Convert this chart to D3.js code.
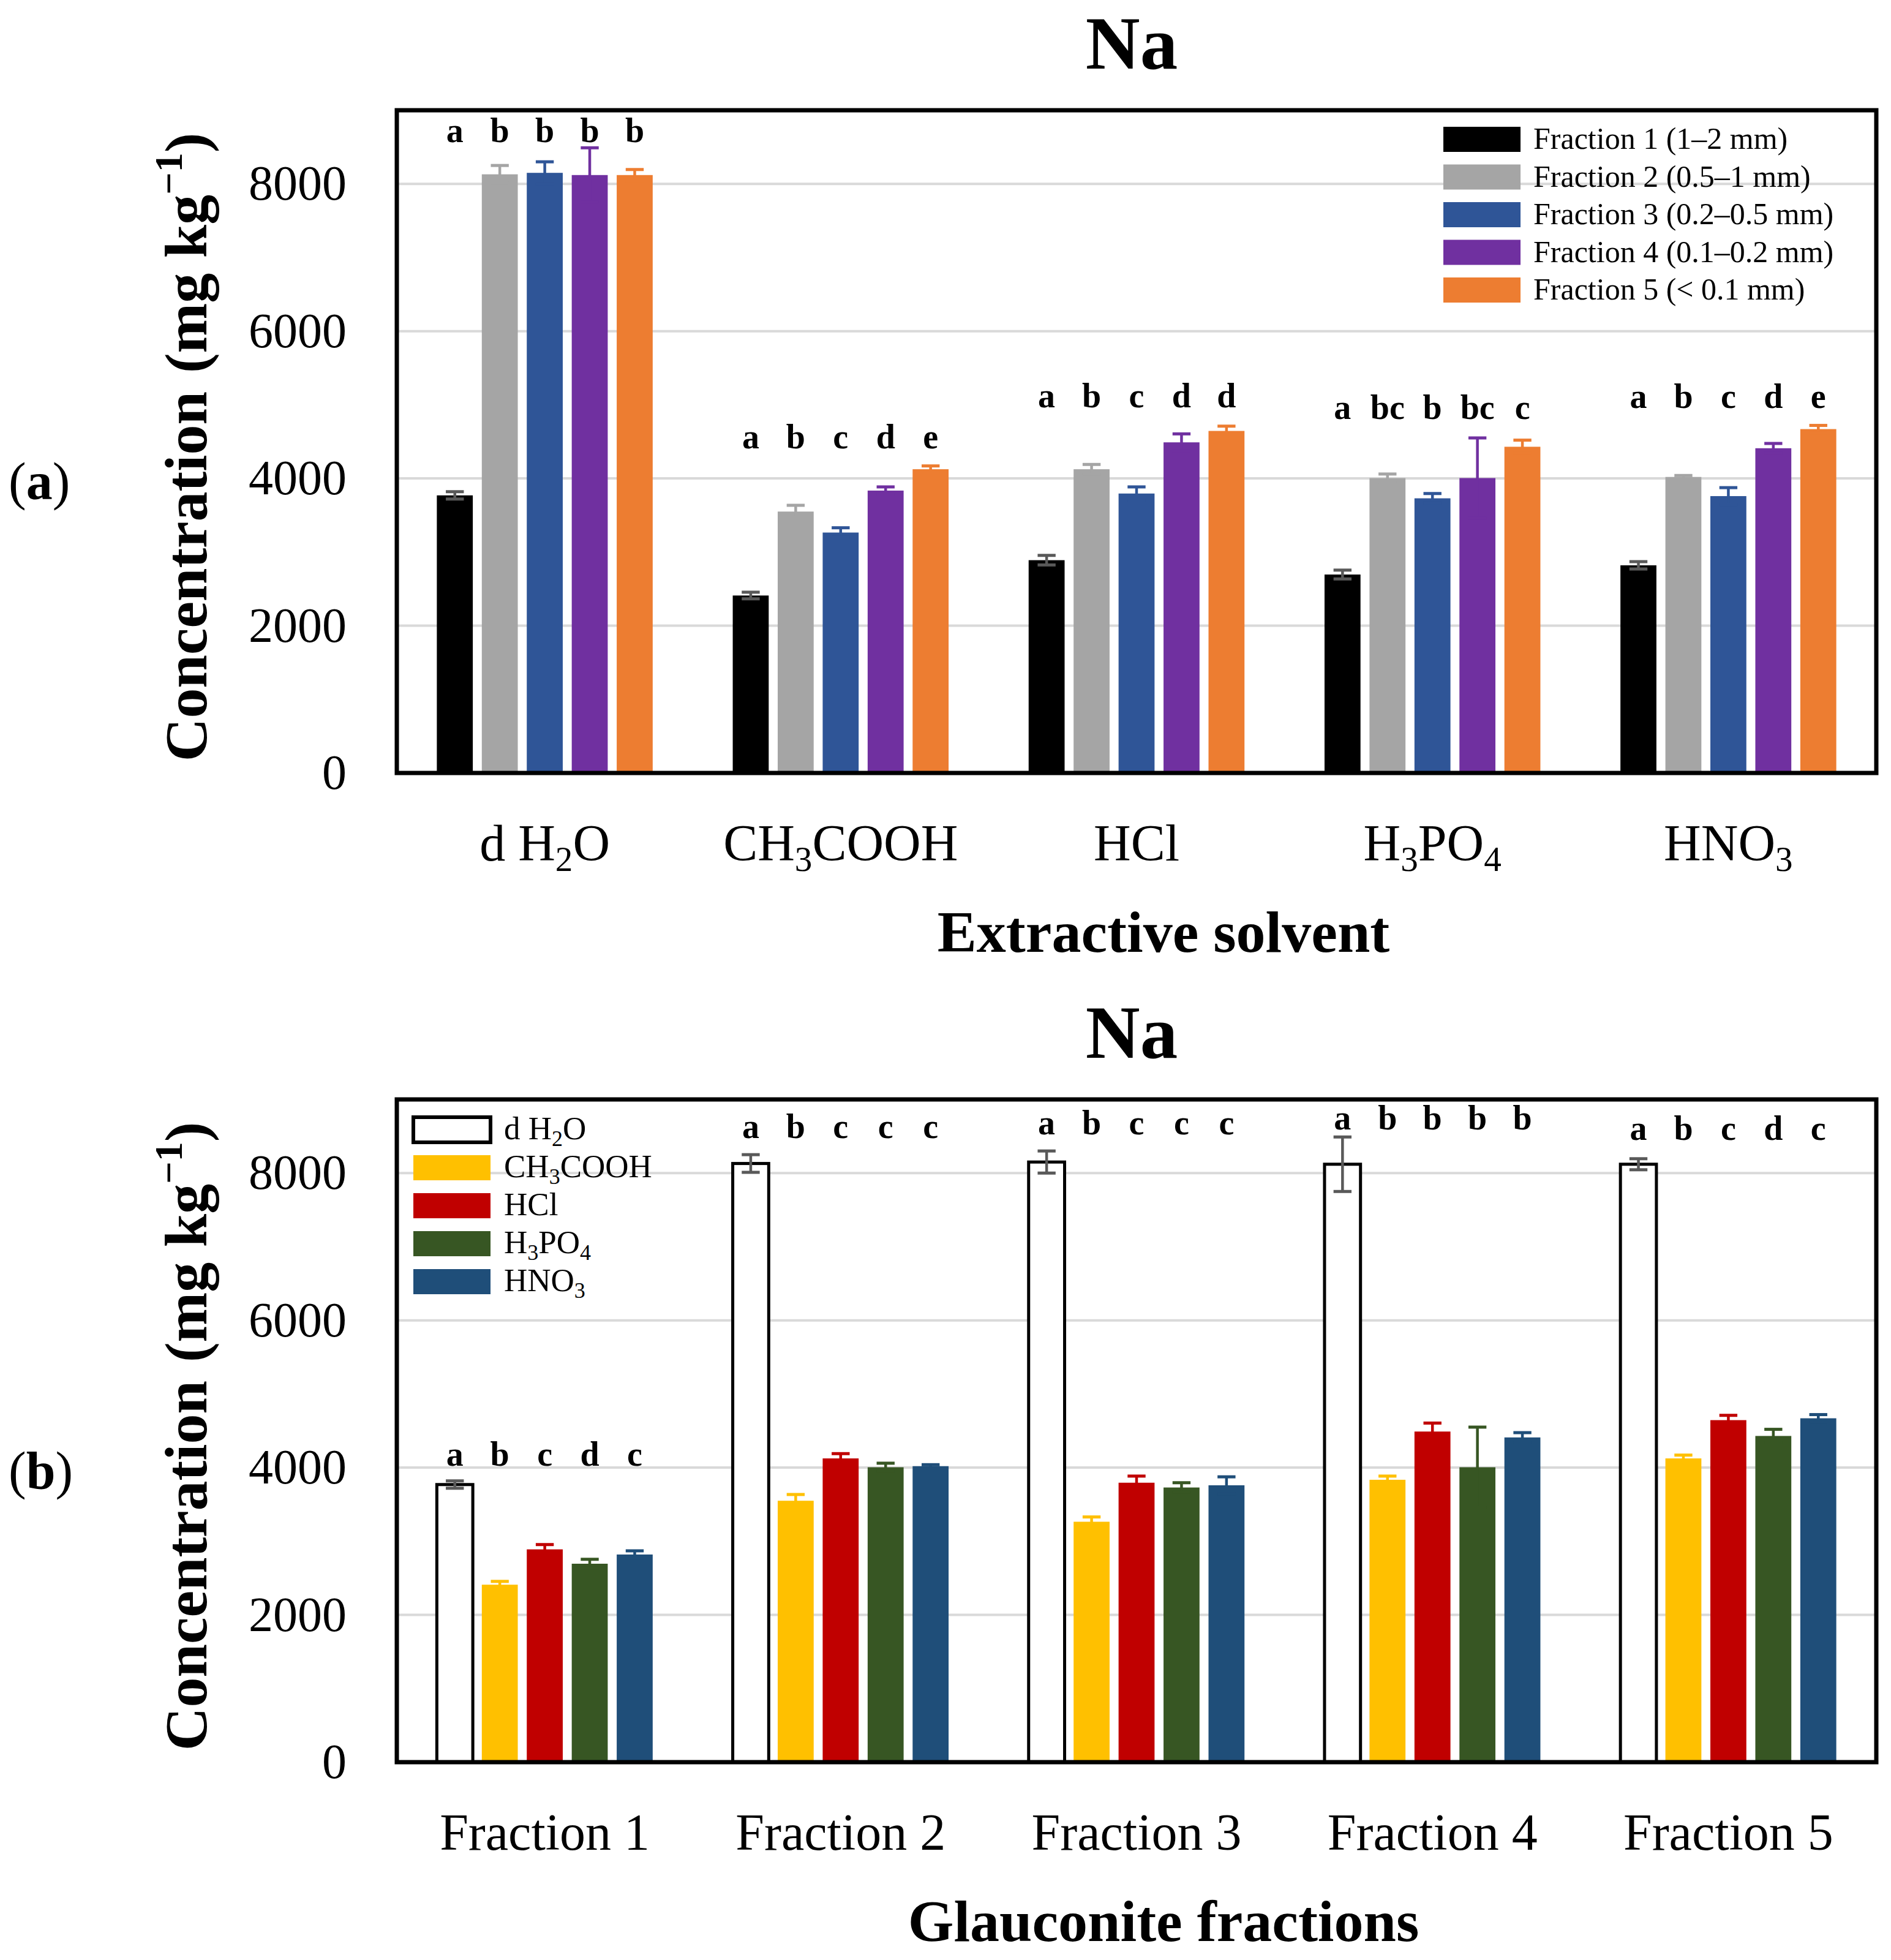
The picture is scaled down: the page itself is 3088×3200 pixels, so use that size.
<!DOCTYPE html>
<html>
<head>
<meta charset="utf-8">
<script src="https://cdn.jsdelivr.net/npm/d3@7"></script>
<style>
  body { margin: 0; background: #fff; }
</style>
</head>
<body>
<script>
// data (mg kg-1), one array per glauconite fraction,
// order of values = solvents below
const solvents = ["d H2O", "CH3COOH", "HCl", "H3PO4", "HNO3"];
const fractions = ["Fraction 1", "Fraction 2", "Fraction 3", "Fraction 4", "Fraction 5"];
const fractionLegend = ["Fraction 1 (1–2 mm)", "Fraction 2 (0.5–1 mm)", "Fraction 3 (0.2–0.5 mm)",
                        "Fraction 4 (0.1–0.2 mm)", "Fraction 5 (< 0.1 mm)"];

const fraction1 = [3770, 2410, 2890, 2695, 2820];
const fraction2 = [8130, 3550, 4125, 4005, 4020];
const fraction3 = [8150, 3265, 3795, 3730, 3760];
const fraction4 = [8120, 3835, 4490, 4005, 4410];
const fraction5 = [8120, 4125, 4645, 4430, 4670];

const err1 = [50, 45, 65, 60, 50];
const err2 = [120, 85, 65, 55, 20];
const err3 = [150, 65, 90, 65, 115];
const err4 = [370, 50, 115, 545, 65];
const err5 = [75, 45, 65, 90, 50];

// letters of panel (a), per solvent, and the level they sit at
const lettersA = [["a","b","b","b","b"], ["a","b","c","d","e"], ["a","b","c","d","d"],
                  ["a","bc","b","bc","c"], ["a","b","c","d","e"]];
const lettersAy = [8570, 4410, 4965, 4810, 4960];
// letters of panel (b), per fraction
const lettersB = [["a","b","c","d","c"], ["a","b","c","c","c"], ["a","b","c","c","c"],
                  ["a","b","b","b","b"], ["a","b","c","d","c"]];
const lettersBy = [4030, 8480, 8530, 8590, 8450];

const yTicks = [0, 2000, 4000, 6000, 8000];

const colorsA = ["#000000", "#A5A5A5", "#2F5597", "#7030A0", "#ED7D31"];
const colorsB = ["#FFFFFF", "#FFC000", "#C00000", "#375623", "#1F4E79"];

const byFraction = [fraction1, fraction2, fraction3, fraction4, fraction5];
const errByFraction = [err1, err2, err3, err4, err5];
const bySolvent = solvents.map((s, j) => byFraction.map(f => f[j]));
const errBySolvent = solvents.map((s, j) => errByFraction.map(f => f[j]));

// canvas
const w = 3088;
const h = 3200;
const left = 648;
const right = 3064;
const serif = "'Liberation Serif', 'DejaVu Serif', serif";

const svg = d3.select("body")
      .append("svg")
      .attr("width", w)
      .attr("height", h);

svg.append("rect").attr("width", w).attr("height", h).attr("fill", "#fff");

// writes a label; for the solvent formulas the digits are subscripts
function label(sel, str, fs) {
      if (solvents.indexOf(str) < 0) {
            sel.text(str);
            return;
      }
      const parts = str.split(/(\d)/).filter(p => p !== "");
      let sub = false;
      parts.forEach(p => {
            const isDigit = /^\d$/.test(p);
            const t = sel.append("tspan").text(p);
            if (isDigit) {
                  t.attr("font-size", fs * 0.68).attr("dy", fs * 0.2);
                  sub = true;
            } else if (sub) {
                  t.attr("dy", -fs * 0.2);
                  sub = false;
            }
      });
}

function drawPanel(o) {
      const top = o.top, bottom = o.top + 1082;
      const g = svg.append("g");

      const x0 = d3.scaleBand().domain(o.groups).range([left, right]);
      const x1 = d3.scaleBand().domain(o.series).range([0, x0.bandwidth()])
                  .paddingInner(0.2).paddingOuter(0.89);
      const y = d3.scaleLinear().domain([0, 9000]).range([bottom, top]);

      // title
      g.append("text")
            .attr("x", 1848).attr("y", top - 68)
            .attr("text-anchor", "middle")
            .attr("font-family", serif).attr("font-weight", "bold").attr("font-size", 123)
            .text("Na");

      // panel label
      const pl = g.append("text")
            .attr("x", 14).attr("y", top + 635)
            .attr("font-family", serif).attr("font-size", 86);
      pl.append("tspan").text("(");
      pl.append("tspan").attr("font-weight", "bold").text(o.label);
      pl.append("tspan").text(")");

      // gridlines
      g.selectAll(".grid")
            .data(yTicks.filter(t => t > 0))
            .enter()
            .append("line")
            .attr("x1", left).attr("x2", right)
            .attr("y1", d => y(d)).attr("y2", d => y(d))
            .attr("stroke", "#d9d9d9").attr("stroke-width", 4);

      // y axis
      const yAxis = d3.axisLeft(y).tickValues(yTicks).tickSize(0).tickPadding(82)
                  .tickFormat(d3.format("d"));
      const ya = g.append("g").attr("transform", "translate(" + left + ",0)").call(yAxis);
      ya.select(".domain").remove();
      ya.selectAll("text")
            .attr("font-family", serif).attr("font-size", 80).attr("fill", "#000");

      // x axis
      const xAxis = d3.axisBottom(x0).tickSize(0).tickFormat("");
      const xa = g.append("g").attr("transform", "translate(0," + bottom + ")").call(xAxis);
      xa.select(".domain").remove();
      xa.selectAll(".tick").append("text")
            .attr("y", 143)
            .attr("text-anchor", "middle")
            .attr("font-family", serif).attr("font-size", 84).attr("fill", "#000")
            .each(function (d) { label(d3.select(this), d, 84); });

      // bars
      const groups = g.selectAll(".grp")
            .data(o.groups)
            .enter()
            .append("g")
            .attr("transform", d => "translate(" + x0(d) + ",0)");

      groups.each(function (gname, gi) {
            const gg = d3.select(this);
            const vals = o.values[gi];
            const errs = o.errors[gi];

            gg.selectAll("rect")
                  .data(vals)
                  .enter()
                  .append("rect")
                  .attr("x", (d, i) => x1(o.series[i]))
                  .attr("width", x1.bandwidth())
                  .attr("y", d => y(d))
                  .attr("height", d => bottom - y(d))
                  .attr("fill", (d, i) => o.colors[i])
                  .attr("stroke", (d, i) => o.colors[i] === "#FFFFFF" ? "#000" : "none")
                  .attr("stroke-width", 5);

            // error bars
            const cx = i => x1(o.series[i]) + x1.bandwidth() / 2;
            const ecol = i => (o.colors[i] === "#000000" || o.colors[i] === "#FFFFFF") ? "#595959" : o.colors[i];
            const cap = x1.bandwidth() * 0.25;
            vals.forEach((v, i) => {
                  const e = errs[i];
                  gg.append("line")
                        .attr("x1", cx(i)).attr("x2", cx(i))
                        .attr("y1", y(v - e)).attr("y2", y(v + e))
                        .attr("stroke", ecol(i)).attr("stroke-width", 4.5);
                  [v - e, v + e].forEach(c => {
                        gg.append("line")
                              .attr("x1", cx(i) - cap).attr("x2", cx(i) + cap)
                              .attr("y1", y(c)).attr("y2", y(c))
                              .attr("stroke", ecol(i)).attr("stroke-width", 5);
                  });
            });

            // significance letters
            gg.selectAll(".lt")
                  .data(o.letters[gi])
                  .enter()
                  .append("text")
                  .attr("x", (d, i) => cx(i))
                  .attr("y", y(o.lettersY[gi]))
                  .attr("text-anchor", "middle")
                  .attr("font-family", serif).attr("font-weight", "bold").attr("font-size", 56)
                  .text(d => d);
      });

      // legend
      const lg = g.append("g");
      o.legend.forEach((name, i) => {
            const cy = top + o.legY + i * o.legStep;
            lg.append("rect")
                  .attr("x", o.legX).attr("y", cy - 20)
                  .attr("width", 126).attr("height", 41)
                  .attr("fill", o.colors[i])
                  .attr("stroke", o.colors[i] === "#FFFFFF" ? "#000" : "none")
                  .attr("stroke-width", 6);
            const t = lg.append("text")
                  .attr("x", o.legX + o.legText).attr("y", cy + 16)
                  .attr("font-family", serif).attr("font-size", o.legFs);
            label(t, name, o.legFs);
      });

      // frame
      g.append("rect")
            .attr("x", left).attr("y", top)
            .attr("width", right - left).attr("height", bottom - top)
            .attr("fill", "none").attr("stroke", "#000").attr("stroke-width", 7);

      // axis titles
      const yt = g.append("text")
            .attr("transform", "translate(337," + ((top + bottom) / 2 + 9) + ") rotate(-90)")
            .attr("text-anchor", "middle")
            .attr("font-family", serif).attr("font-weight", "bold").attr("font-size", 98);
      yt.append("tspan").text("Concentration");
      yt.append("tspan").attr("dx", 30).text("(mg kg");
      yt.append("tspan").attr("font-size", 64).attr("dy", -40).text("−1");
      yt.append("tspan").attr("dy", 40).text(")");

      g.append("text")
            .attr("x", 1900).attr("y", bottom + 292)
            .attr("text-anchor", "middle")
            .attr("font-family", serif).attr("font-weight", "bold").attr("font-size", 96)
            .text(o.xTitle);
}

drawPanel({
      top: 180,
      label: "a",
      groups: solvents,
      series: fractions,
      values: bySolvent,
      errors: errBySolvent,
      letters: lettersA,
      lettersY: lettersAy,
      colors: colorsA,
      legend: fractionLegend,
      legX: 2357, legY: 47, legStep: 61.5, legText: 147, legFs: 50,
      xTitle: "Extractive solvent"
});

drawPanel({
      top: 1795,
      label: "b",
      groups: fractions,
      series: solvents,
      values: byFraction,
      errors: errByFraction,
      letters: lettersB,
      lettersY: lettersBy,
      colors: colorsB,
      legend: solvents,
      legX: 675, legY: 49, legStep: 62, legText: 148, legFs: 53,
      xTitle: "Glauconite fractions"
});
</script>
</body>
</html>
